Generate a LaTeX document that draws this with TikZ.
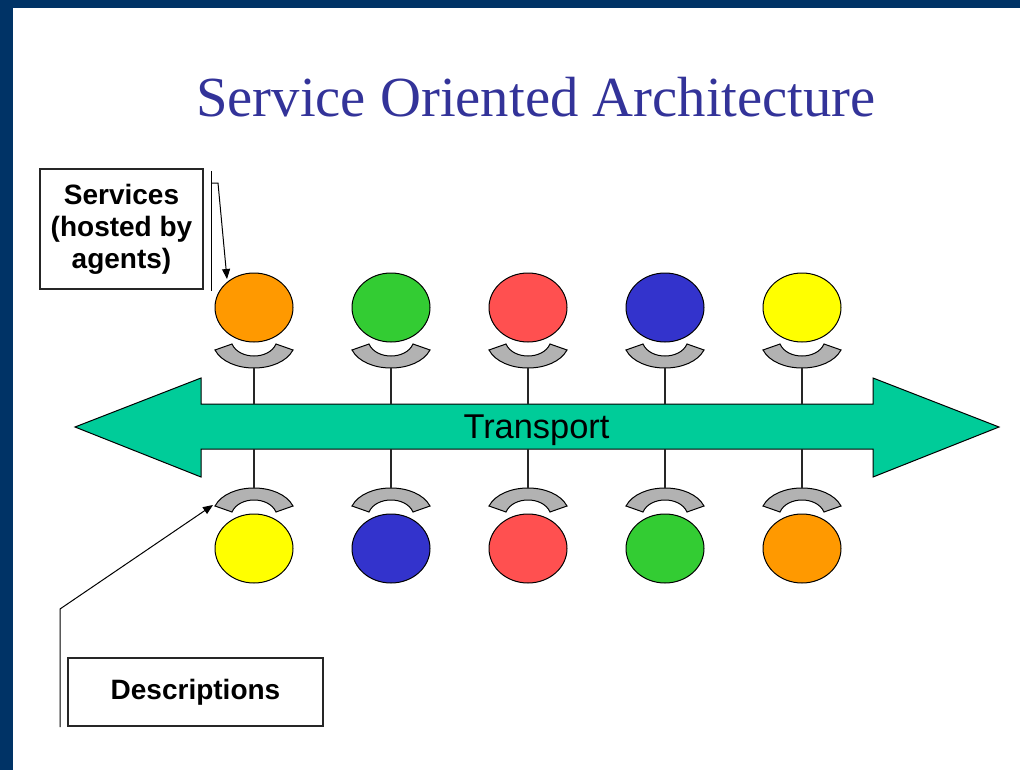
\documentclass[tikz,border=0pt]{standalone}
\usepackage{fontspec}
\setmainfont{Liberation Sans}
\newfontfamily\titlefont{Liberation Serif}
\usetikzlibrary{shapes.geometric,arrows.meta}
\definecolor{navy}{HTML}{003366}
\definecolor{titleblue}{HTML}{333399}
\definecolor{sorange}{HTML}{FF9900}
\definecolor{sgreen}{HTML}{33CC33}
\definecolor{sred}{HTML}{FF5050}
\definecolor{sblue}{HTML}{3333CC}
\definecolor{syellow}{HTML}{FFFF00}
\definecolor{transportc}{HTML}{00CC99}
\definecolor{plugc}{HTML}{B2B2B2}
\begin{document}
\begin{tikzpicture}[x=0.75pt,y=-0.75pt,
  svc/.style={ellipse,draw=black,line width=0.75pt,inner sep=0pt,minimum width=58.5pt,minimum height=51.75pt},
  plugshape/.style={fill=plugc,draw=black,line width=0.75pt},
  stem/.style={draw=black!85,line width=0.8pt},
  labelbox/.style={draw=black!85,line width=1pt,fill=white,font=\bfseries\fontsize{21pt}{24pt}\selectfont,align=center,inner sep=0pt},
  callout/.style={draw=black,line width=0.75pt,-{Triangle[length=7.5pt,width=6pt]}}
]
\useasboundingbox (0,0) rectangle (1020,770);
\fill[white] (0,0) rectangle (1020,770);
\fill[navy] (0,0) rectangle (13,770);
\fill[navy] (0,0) rectangle (1020,8);

\node[font=\titlefont\fontsize{42.5pt}{50pt}\selectfont, text=titleblue, anchor=base, inner sep=0pt] (title) at (536,117) {Service Oriented Architecture};

\draw[fill=transportc, draw=black, line width=0.75pt] (75,427) -- (201,378) -- (201,404) -- (873,404) -- (873,378) -- (999,427) -- (873,477) -- (873,449) -- (201,449) -- (201,477) -- cycle;
\node[font=\fontsize{25.8pt}{30pt}\selectfont, anchor=base, inner sep=0pt] (transport) at (536.5,438) {Transport};

\foreach \i/\cx/\ct/\cb in {1/254/sorange/syellow, 2/391/sgreen/sblue, 3/528/sred/sred, 4/665/sblue/sgreen, 5/802/syellow/sorange} {
  \node[svc, fill=\ct] (top\i) at (\cx,307.5) {};
  \node[svc, fill=\cb] (bot\i) at (\cx,548.5) {};
  \draw[plugshape] (\cx-39,350) .. controls (\cx-26,374) and (\cx+26,374) .. (\cx+39,350) -- (\cx+22,344) .. controls (\cx+15,360) and (\cx-15,360) .. (\cx-22,344) -- cycle;
  \draw[plugshape] (\cx-39,506) .. controls (\cx-26,482) and (\cx+26,482) .. (\cx+39,506) -- (\cx+22,512) .. controls (\cx+15,496) and (\cx-15,496) .. (\cx-22,512) -- cycle;
  \coordinate (tp\i) at (\cx,368);
  \coordinate (ta\i) at (\cx,404);
  \coordinate (ba\i) at (\cx,449);
  \coordinate (bp\i) at (\cx,488);
  \draw[stem] (tp\i) -- (ta\i);
  \draw[stem] (ba\i) -- (bp\i);
}

\node[labelbox, minimum width=122.25pt, minimum height=90pt] (services) at (121.5,229) {Services\\(hosted by\\agents)};
\coordinate (sbarT) at (211,171);
\coordinate (sbarB) at (211,291);
\draw[draw=black, line width=0.75pt] (sbarT) -- (sbarB);
\coordinate (sc0) at (212,183);
\coordinate (sc1) at (218,183);
\coordinate (sc2) at (227,279);
\draw[callout] (sc0) -- (sc1) -- (sc2);

\node[labelbox, minimum width=191.25pt, minimum height=51pt] (desc) at (195.5,692) {Descriptions};
\coordinate (dc0) at (60,727);
\coordinate (dc1) at (60,609);
\coordinate (dc2) at (213,505);
\draw[callout] (dc0) -- (dc1) -- (dc2);
\end{tikzpicture}
\end{document}
